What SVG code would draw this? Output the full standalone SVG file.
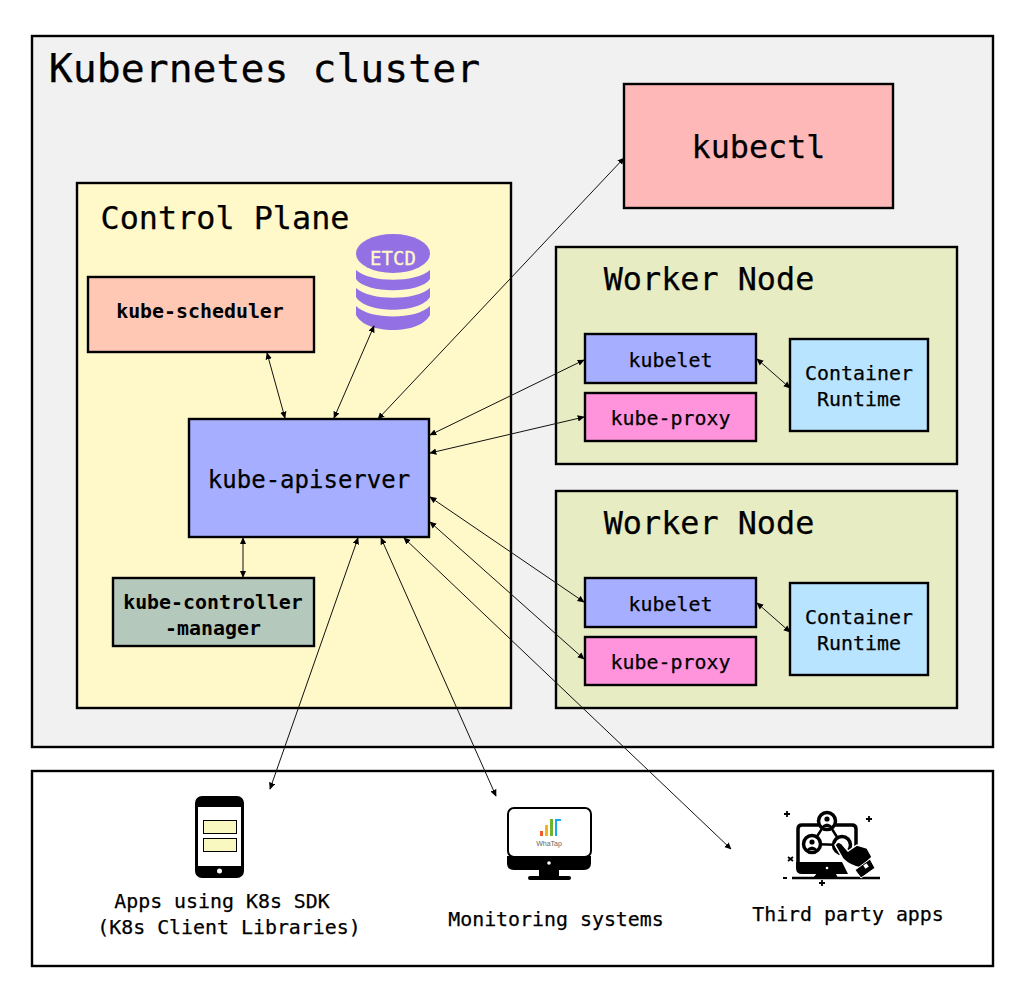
<svg xmlns="http://www.w3.org/2000/svg" width="1024" height="994" viewBox="0 0 1024 994">
<style>
.b{stroke:#000;stroke-width:2.4}
text{font-family:"DejaVu Sans Mono","Liberation Mono",monospace;fill:#000;text-anchor:middle;stroke:#000;stroke-width:.25}
.t40{font-size:39.800px}.t32{font-size:31.800px}.t24{font-size:24px}.t20{font-size:19.900px}.s{font-weight:600;stroke-width:0}
.c line{stroke:#111;stroke-width:1;marker-start:url(#a);marker-end:url(#a)}
.p{fill:#9370e4}
</style>
<defs>
<marker id="a" viewBox="0 0 10 10" refX="9" refY="5" markerWidth="7" markerHeight="7" markerUnits="userSpaceOnUse" orient="auto-start-reverse"><path d="M0 0.500 L10 5 L0 9.500 Z" fill="#000"/></marker>
</defs>
<rect width="1024" height="994" fill="#fff"/>
<g id="cluster"><rect class="b" x="32" y="36" width="961" height="711" fill="#f1f1f1"/><text class="t40" x="264.500" y="82">Kubernetes cluster</text></g>
<g id="external"><rect class="b" x="32" y="771" width="961" height="195" fill="#fff"/></g>
<g id="kubectl"><rect class="b" x="624" y="84" width="269" height="124" fill="#ffb8b8"/><text class="t32" x="758.500" y="158">kubectl</text></g>
<g id="control-plane"><rect class="b" x="77" y="183" width="434" height="525" fill="#fff8c8"/><text class="t32" x="225" y="229">Control Plane</text></g>
<g id="etcd">
<ellipse class="p" cx="393" cy="253.500" rx="37" ry="19.500"/>
<path class="p" d="M356 270C370 283 416 283 430 270V279C420 294 366 294 356 279Z"/>
<path class="p" d="M356 288C370 301 416 301 430 288V297C420 314 366 314 356 297Z"/>
<path class="p" d="M356 306C370 320 416 320 430 306V315C420 335 366 335 356 315Z"/>
<text x="393" y="265" style="font-size:19px;fill:#fff8c8;stroke:#fff8c8;stroke-width:.3">ETCD</text>
</g>
<g id="kube-scheduler"><rect class="b" x="88" y="277" width="226" height="75" fill="#ffc8b4"/><text class="t20 s" x="200" y="318">kube-scheduler</text></g>
<g id="kube-apiserver"><rect class="b" x="189" y="419" width="240" height="118" fill="#a6aeff"/><text class="t24" x="309" y="488">kube-apiserver</text></g>
<g id="kube-controller-manager"><rect class="b" x="113" y="578" width="201" height="68" fill="#b4c8bc"/><text class="t20 s" x="213" y="609">kube-controller</text><text class="t20 s" x="213" y="635">-manager</text></g>
<g id="worker-1"><rect class="b" x="556" y="247" width="401" height="217" fill="#e8ecc2"/><text class="t32" x="709" y="290">Worker Node</text></g>
<g id="kubelet-1"><rect class="b" x="585" y="334" width="171" height="49" fill="#a6aeff"/><text class="t20" x="670.500" y="367">kubelet</text></g>
<g id="kube-proxy-1"><rect class="b" x="585" y="393" width="171" height="48" fill="#ff94dc"/><text class="t20" x="670.500" y="425">kube-proxy</text></g>
<g id="runtime-1"><rect class="b" x="790" y="339" width="138" height="92" fill="#b8e4ff"/><text class="t20" x="859" y="380">Container</text><text class="t20" x="859" y="406">Runtime</text></g>
<g id="worker-2"><rect class="b" x="556" y="491" width="401" height="217" fill="#e8ecc2"/><text class="t32" x="709" y="534">Worker Node</text></g>
<g id="kubelet-2"><rect class="b" x="585" y="578" width="171" height="49" fill="#a6aeff"/><text class="t20" x="670.500" y="611">kubelet</text></g>
<g id="kube-proxy-2"><rect class="b" x="585" y="637" width="171" height="48" fill="#ff94dc"/><text class="t20" x="670.500" y="669">kube-proxy</text></g>
<g id="runtime-2"><rect class="b" x="790" y="583" width="138" height="92" fill="#b8e4ff"/><text class="t20" x="859" y="624">Container</text><text class="t20" x="859" y="650">Runtime</text></g>
<g id="connectors" class="c">
<line x1="378" y1="419" x2="624" y2="158"/>
<line x1="267" y1="353" x2="285" y2="418"/>
<line x1="374" y1="326" x2="334" y2="418"/>
<line x1="430" y1="435" x2="584" y2="360"/>
<line x1="430" y1="453" x2="584" y2="417"/>
<line x1="243" y1="538" x2="243" y2="577"/>
<line x1="430" y1="497" x2="584" y2="602"/>
<line x1="430" y1="522" x2="584" y2="659"/>
<line x1="757" y1="359" x2="790" y2="388"/>
<line x1="757" y1="603" x2="790" y2="632"/>
<line x1="358" y1="538" x2="270" y2="789"/>
<line x1="381" y1="538" x2="496" y2="796"/>
<line x1="404" y1="538" x2="731" y2="849"/>
</g>
<g id="apps-sdk">
<rect x="195" y="796" width="49" height="82" rx="7" fill="#000"/>
<rect x="198" y="807" width="43" height="59" fill="#fff"/>
<circle cx="219.500" cy="871" r="2.500" fill="#fff"/>
<rect x="203.500" y="820.500" width="33" height="13" fill="#f8f8c0" stroke="#000"/>
<rect x="203.500" y="838.500" width="33" height="13" fill="#f8f8c0" stroke="#000"/>
<text class="t20" x="222" y="908">Apps using K8s SDK</text>
<text class="t20" x="229" y="934">(K8s Client Libraries)</text>
</g>
<g id="monitoring">
<rect x="508" y="808" width="83" height="49" rx="6" fill="#fff" stroke="#000" stroke-width="2"/>
<path d="M507 856H591V863Q591 870 584 870H514Q507 870 507 863Z" fill="#000"/>
<rect x="539" y="870" width="20" height="6" fill="#000"/>
<rect x="528" y="876" width="43" height="4" rx="2" fill="#000"/>
<circle cx="549" cy="863" r="1.800" fill="#fff"/>
<rect x="540" y="831" width="3" height="5" fill="#f05a28"/><rect x="545" y="825" width="3" height="11" fill="#fbb017"/><rect x="550" y="819" width="3" height="17" fill="#6cb52d"/><path d="M555 836V819H561V821H557V836Z" fill="#18a8f0"/>
<text x="549" y="846" style="font-family:'Liberation Sans',sans-serif;font-size:7px;fill:#666;stroke:none">WhaTap</text>
<text class="t20" x="556" y="926">Monitoring systems</text>
</g>
<g id="third-party">
<path d="M798 864V829Q798 825 802 825H852Q856 825 856 829V846" fill="none" stroke="#000" stroke-width="3.500"/>
<path d="M796 862H842L848 874H802Q796 874 796 868Z" fill="#000"/>
<circle cx="827" cy="868" r="1.300" fill="#fff"/>
<path d="M823 874H832L834 870L838 878H813L818 872Z" fill="#000"/>
<path d="M792 878H880" stroke="#000" stroke-width="2.500"/>
<path d="M827 821L812 844L842 845Z" fill="#fff" stroke="#000" stroke-width="2.500"/>
<circle cx="827" cy="821" r="8.500" fill="#fff" stroke="#000" stroke-width="3.500"/>
<circle cx="812" cy="844" r="8.500" fill="#fff" stroke="#000" stroke-width="3.500"/>
<circle cx="842" cy="845" r="8.500" fill="#fff" stroke="#000" stroke-width="3.500"/>
<circle cx="827" cy="819" r="2.600" fill="#000"/><path d="M821 827Q827 820 833 827Z" fill="#000"/>
<circle cx="812" cy="842" r="2.600" fill="#000"/><path d="M806 850Q812 843 818 850Z" fill="#000"/>
<path d="M835 845Q838 840 842 844L848 851L857 845L867 848L872 857L861 868Q850 866 843 859Z" fill="#000" stroke="#fff" stroke-width="1.500"/>
<path d="M855 870L870 859L875 868L861 878Z" fill="#000" stroke="#fff" stroke-width="1"/>
<rect x="864" y="864" width="4" height="4" fill="#fff" transform="rotate(-35 866 866)"/>
<path d="M787 811V817M784 814H790M869 816V822M866 819H872M822 880V886M819 883H825M788 857L793 861M793 857L788 861M783 878H787" stroke="#000" stroke-width="1.800"/>
<text class="t20" x="848" y="921">Third party apps</text>
</g>
</svg>
